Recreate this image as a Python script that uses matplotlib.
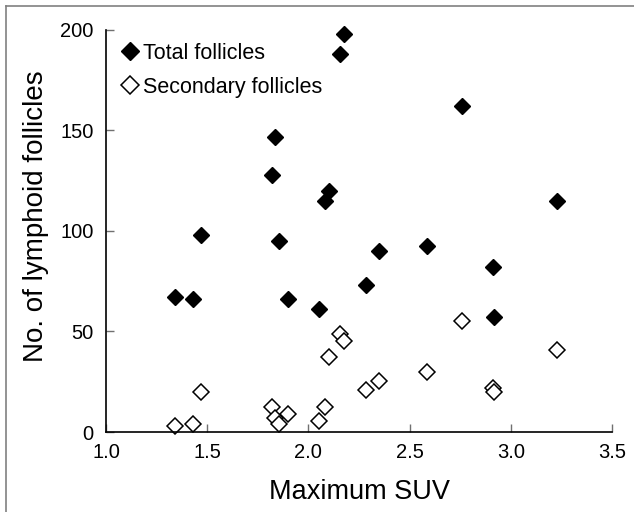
import matplotlib.pyplot as plt
from matplotlib.lines import Line2D

plt.rcParams["font.family"] = ["Liberation Sans", "DejaVu Sans"]

max_suv = [1.34, 1.43, 1.47, 1.82, 1.835, 1.855, 1.90, 2.05, 2.08, 2.10,
           2.155, 2.175, 2.285, 2.35, 2.584, 2.757, 2.914, 2.918, 3.227]
total_follicles = [67, 66, 98, 128, 147, 95, 66, 61, 115, 120,
                   188, 198, 73, 90, 92.5, 162, 82, 57, 115]
secondary_follicles = [3, 4, 20, 12.6, 6.8, 4, 9, 5.5, 12.6, 37.5,
                       49, 45.4, 21, 25.4, 30, 55, 21.7, 20, 41]

xticks = [1.0, 1.5, 2.0, 2.5, 3.0, 3.5]
yticks = [0, 50, 100, 150, 200]

fig = plt.figure(figsize=(6.34, 5.12), dpi=100)
ax = fig.add_axes([0.1672, 0.15625, 0.7981, 0.7852])

ax.plot(max_suv, total_follicles, "D", ms=8, mfc="black", mec="black",
        linestyle="none", label="Total follicles", clip_on=False)
ax.plot(max_suv, secondary_follicles, "D", ms=8, mfc="white", mec="black",
        mew=1.1, linestyle="none", label="Secondary follicles", clip_on=False)

ax.set_xlim(1.0, 3.5)
ax.set_ylim(0, 200)
ax.set_xticks(xticks)
ax.set_xticklabels([f"{t:.1f}" for t in xticks])
ax.set_yticks(yticks)
ax.tick_params(direction="in", length=6, width=1, labelsize=14.5,
               color="#707070")
ax.tick_params(axis="x", pad=8)
ax.tick_params(axis="y", pad=9)
for side in ["top", "right"]:
    ax.spines[side].set_visible(False)
for side in ["left", "bottom"]:
    ax.spines[side].set_linewidth(1.2)

ax.set_xlabel("Maximum SUV", fontsize=19.5, labelpad=12)
ax.set_ylabel("No. of lymphoid follicles", fontsize=20)
ax.yaxis.set_label_coords(-0.113, 0.537)

ax.legend(loc="upper left", frameon=False, fontsize=15.5, handletextpad=0.1,
          handlelength=1.0, labelspacing=0.6, borderaxespad=0.2,
          markerscale=1.1, bbox_to_anchor=(0.0, 1.0))

# thin gray frame along the top and left of the figure
fig.add_artist(Line2D([6 / 634, 1.0], [1 - 6 / 512, 1 - 6 / 512],
                      transform=fig.transFigure, color="#808080", lw=1.2))
fig.add_artist(Line2D([6 / 634, 6 / 634], [0.0, 1 - 6 / 512],
                      transform=fig.transFigure, color="#808080", lw=1.2))

fig.savefig("out.png", dpi=100)
